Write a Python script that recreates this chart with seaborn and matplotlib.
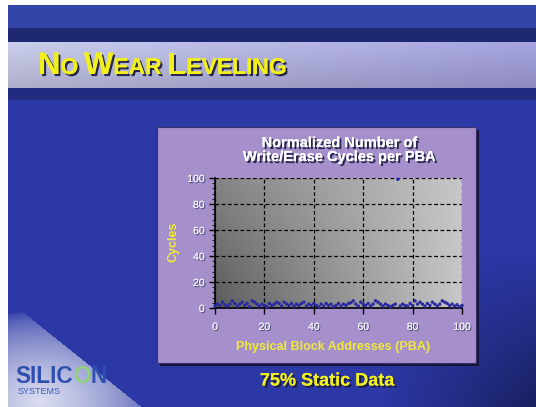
import numpy as np
import pandas as pd
import seaborn as sns
import matplotlib.pyplot as plt
import matplotlib.patheffects as pe
from matplotlib.patches import Rectangle, Polygon

# normalized write/erase cycles per physical block address
pba = list(range(0, 101))
cycles = [1.5, 3, 2, 4.5, 2.5, 1.5, 3, 5.5, 3.5, 1.5, 3, 4.5, 2, 3.5, 1, 5.5, 4.5, 3, 1.5, 3,
          2, 1, 3.5, 2, 3, 4.5, 3.5, 1.5, 4.5, 3, 2, 3.5, 1.5, 3, 2, 3.5, 4.5, 1.5, 3, 2,
          3.5, 2, 1, 3, 1.5, 3.5, 2, 3, 1, 2, 3.5, 1.5, 3, 2, 3.5, 4, 5.5, 3, 1.5, 4.5,
          3, 2, 3.5, 1.5, 3, 5.5, 4.5, 3, 1.5, 3, 2, 1, 2, 3, 99, 1.5, 3, 2, 1.5, 3.5,
          2, 5.5, 3, 4.5, 3, 1.5, 3.5, 2, 4.5, 3, 1.5, 3, 5.5, 4.5, 3.5, 2, 3, 1.5, 2.5, 1, 2]
df = pd.DataFrame({'PBA': pba, 'Cycles': cycles})

x_ticks = [0, 20, 40, 60, 80, 100]
y_ticks = [0, 20, 40, 60, 80, 100]

W, H = 536, 407


def fx(x):
    return x / W


def fy(y):
    return 1 - y / H


sns.set_style('ticks')
plt.rcParams['font.family'] = ['Liberation Sans', 'DejaVu Sans']

fig = plt.figure(figsize=(W / 100, H / 100), dpi=100)
fig.patch.set_facecolor('white')
renderer = fig.canvas.get_renderer()

# slide background
bg = fig.add_axes([0, 0, 1, 1])
bg.set_xlim(0, W)
bg.set_ylim(H, 0)
bg.axis('off')
yy, xx = np.mgrid[0:H, 0:W]
img = np.zeros((H, W, 3))
img[:] = np.array([0.17, 0.22, 0.65])
shade = 1 - 0.45 * np.clip((xx - 380) / 160, 0, 1) * np.clip((yy - 250) / 160, 0, 1)
img *= shade[..., None]
img[yy < 33] = np.array([0.20, 0.27, 0.66])
img[(yy >= 28) & (yy < 42)] = np.array([0.12, 0.16, 0.45])
band = (yy >= 42) & (yy < 88)
t = xx / W
band_col = np.stack([0.80 - 0.15 * t, 0.81 - 0.17 * t, 0.93 - 0.05 * t], axis=-1)
vb = np.clip((yy - 42) / 46, 0, 1)[..., None]
band_col = band_col * (1 - 0.15 * vb)
img[band] = band_col[band]
img[(yy >= 88) & (yy < 100)] = np.array([0.13, 0.17, 0.50])
# logo glow in the lower left
glow = np.clip(1 - np.hypot((xx - 40) / 130, (yy - 400) / 90), 0, 1) ** 0.6
glow *= (xx < 8 + (yy - 300) * 1.25)
img = img * (1 - glow[..., None]) + np.array([0.86, 0.87, 0.94]) * glow[..., None]
img[(xx < 8) | (yy < 5)] = 1.0
bg.imshow(img, extent=[0, W, H, 0], aspect='auto', zorder=0)

# chart panel with shadow
bg.add_patch(Rectangle((160, 130), 319, 236, facecolor='#15153a', edgecolor='none', zorder=2))
bg.add_patch(Rectangle((157, 127), 319, 236, facecolor='#a590cc', edgecolor='#3a3070', lw=0.8, zorder=3))

shadow = [pe.withSimplePatchShadow(offset=(1.5, -1.5), shadow_rgbFace='#1a1a40', alpha=0.9), pe.Normal()]


def place_pieces(pieces, x_start, y_base, width_target=None, **kw):
    # first pass to measure, then rescale to the target width
    scale = 1.0
    for rnd in range(2):
        x0 = x_start
        made = []
        for s, size, col in pieces:
            txt = fig.text(fx(x0), fy(y_base), s, fontsize=size * scale, color=col,
                           ha='left', va='baseline', **kw)
            bb = txt.get_window_extent(renderer=renderer)
            x0 += bb.width if s != ' ' else size * scale * 0.35
            made.append(txt)
        if rnd == 0 and width_target:
            scale = width_target / (x0 - x_start)
            for m in made:
                m.remove()
        else:
            break


# small caps slide title
Y = '#f2f01c'
place_pieces([('N', 19, Y), ('O', 14, Y), (' ', 14, Y), ('W', 19, Y), ('EAR', 14, Y), (' ', 14, Y),
              ('L', 19, Y), ('EVELING', 14, Y)], 38, 74, width_target=249,
             fontweight='bold', path_effects=shadow)

# logo text
B = '#2f4fb0'
place_pieces([('SILIC', 17, B), ('O', 17, '#8fd07a'), ('N', 17, B)], 15, 383, width_target=92,
             fontweight='bold')
fig.text(fx(18), fy(394), 'SYSTEMS', fontsize=6.5, color='#3a5ab8', ha='left', va='baseline')

# main chart
ax = fig.add_axes([fx(215), fy(308), fx(462) - fx(215), fy(178) - fy(308)])
gx, gy = np.meshgrid(np.linspace(0, 1, 200), np.linspace(0, 1, 200))
grad = 0.36 + 0.42 * gx + 0.16 * gy * (1 - gx)
ax.imshow(grad, extent=[0, 100, 0, 100], origin='lower', cmap='gray', vmin=0, vmax=1,
          aspect='auto', zorder=0)

sns.scatterplot(data=df, x='PBA', y='Cycles', ax=ax, color='#2a2aa0', s=6,
                edgecolor='none', zorder=3, clip_on=False, legend=False)

ax.set_xlim(0, 100)
ax.set_ylim(0, 100)
ax.set_xticks(x_ticks)
ax.set_yticks(y_ticks)
ax.set_yticks(np.arange(0, 101, 4), minor=True)
ax.grid(True, which='major', color='black', linestyle=(0, (3, 2)), linewidth=0.9)
ax.set_axisbelow(False)
for side in ['top', 'right']:
    ax.spines[side].set_visible(False)
for side in ['left', 'bottom']:
    ax.spines[side].set_color('black')
    ax.spines[side].set_linewidth(1.2)
ax.tick_params(axis='both', which='major', colors='black', labelcolor='#f4f4f8',
               labelsize=7.5, length=4, width=1)
ax.tick_params(axis='y', which='minor', colors='black', length=2, width=0.6)
ax.tick_params(axis='x', pad=6)
for lab in ax.get_xticklabels() + ax.get_yticklabels():
    lab.set_path_effects([pe.withSimplePatchShadow(offset=(0.8, -0.8), shadow_rgbFace='#303060', alpha=0.8),
                          pe.Normal()])
ax.set_xlabel('')
ax.set_ylabel('')

fig.text(fx(340), fy(150), 'Normalized Number of\nWrite/Erase Cycles per PBA', fontsize=10.5,
         fontweight='bold', color='white', ha='center', va='center', linespacing=1.0,
         family=['Liberation Sans Narrow', 'Liberation Sans'], path_effects=shadow)
fig.text(fx(174), fy(242), 'Cycles', fontsize=9, fontweight='bold', color='#f2ea3a',
         rotation=90, ha='center', va='center')
fig.text(fx(333), fy(347), 'Physical Block Addresses (PBA)', fontsize=9, fontweight='bold',
         color='#f2ea3a', ha='center', va='center')
fig.text(fx(327), fy(381), '75% Static Data', fontsize=13, fontweight='bold',
         color='#f2f01c', ha='center', va='center', path_effects=shadow)

fig.savefig('out.png', dpi=100)
